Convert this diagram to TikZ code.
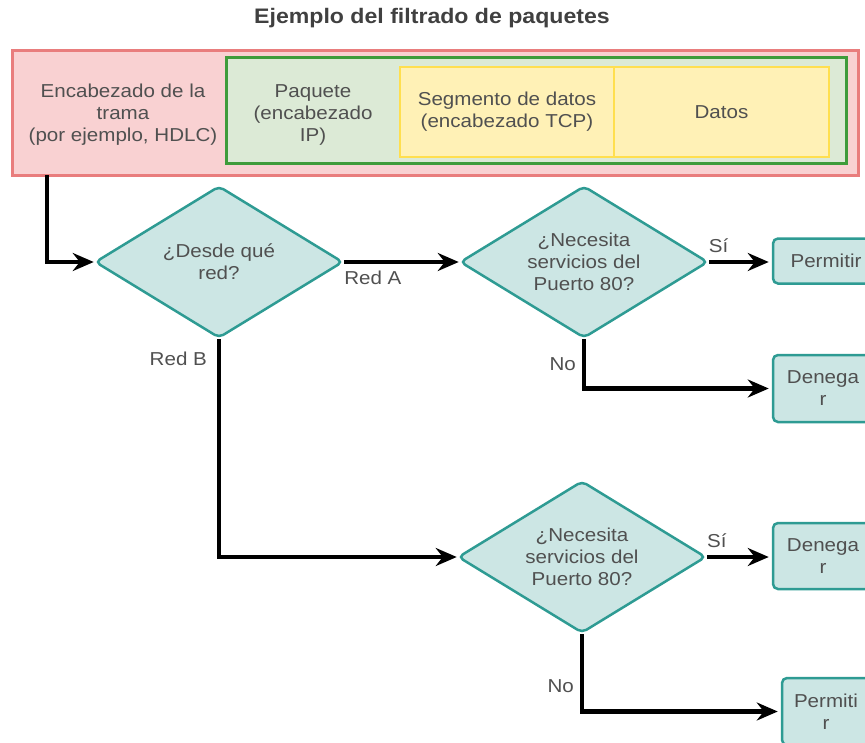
\documentclass[tikz,border=0pt]{standalone}
\usepackage{fontspec}
\setmainfont[FakeStretch=1.1]{Liberation Sans}
\usetikzlibrary{shapes.geometric,arrows.meta}
\definecolor{rojoborde}{HTML}{E97D7D}
\definecolor{rojofondo}{HTML}{F9D1D2}
\definecolor{verdeborde}{HTML}{3F9C3B}
\definecolor{verdefondo}{HTML}{DCEAD6}
\definecolor{amarborde}{HTML}{FFDF4F}
\definecolor{amarfondo}{HTML}{FFF1B6}
\definecolor{tealborde}{HTML}{2E9B93}
\definecolor{tealfondo}{HTML}{CCE6E4}
\definecolor{gristxt}{HTML}{505050}
\begin{document}
\begin{tikzpicture}[x=1pt,y=-1pt,font=\fontsize{18.7}{22}\selectfont,line join=miter,
  >={Stealth[length=21pt,width=18pt,inset=7pt]},
  txt/.style={text=gristxt,align=center},
  rombo/.style={diamond,aspect=1.63,draw=tealborde,fill=tealfondo,line width=2.5pt,rounded corners=5pt,
    minimum width=248pt,minimum height=152pt,inner sep=0pt,txt},
  caja/.style={rectangle,draw=tealborde,fill=tealfondo,line width=2.5pt,rounded corners=5pt,inner sep=0pt,txt},
  flecha/.style={->,line width=4.2pt},
  lbl/.style={text=gristxt,inner sep=1pt}]
\useasboundingbox (0,0) rectangle (865,742);
\clip (0,0) rectangle (865,742);
\node[txt,text=black!75,font=\fontsize{21}{24}\selectfont\bfseries] (titulo) at (432,18) {Ejemplo del filtrado de paquetes};
\node[draw=rojoborde,fill=rojofondo,line width=3pt,minimum width=846pt,minimum height=125pt] (trama) at (435,112.5) {};
\node[draw=verdeborde,fill=verdefondo,line width=3pt,minimum width=620pt,minimum height=106pt] (paquete) at (536,110) {};
\node[draw=amarborde,fill=amarfondo,line width=2pt,minimum width=214pt,minimum height=90pt,txt] (segmento) at (507,112) {Segmento de datos\\(encabezado TCP)};
\node[draw=amarborde,fill=amarfondo,line width=2pt,minimum width=215pt,minimum height=90pt,txt] (datos) at (721.5,112) {Datos};
\node[txt] (tramatxt) at (123,115) {Encabezado de la\\trama\\(por ejemplo, HDLC)};
\node[txt] (paquetetxt) at (313,115) {Paquete\\(encabezado\\IP)};
\coordinate (entrada) at (47,175);
\node[rombo] (desde) at (219,262) {¿Desde qué\\red?};
\node[rombo] (puerto1) at (584,262) {¿Necesita\\servicios del\\Puerto 80?};
\node[rombo] (puerto2) at (582,557) {¿Necesita\\servicios del\\Puerto 80?};
\node[caja,minimum width=106pt,minimum height=45pt] (permitir1) at (826,261) {Permitir};
\node[caja,minimum width=100pt,minimum height=67pt] (denegar1) at (823,388.5) {Denega\\r};
\node[caja,minimum width=100pt,minimum height=66pt] (denegar2) at (823,556) {Denega\\r};
\node[caja,minimum width=88pt,minimum height=67pt] (permitir2) at (826,711.5) {Permiti\\r};
\draw[flecha] (entrada) |- (desde.west);
\draw[flecha] (desde.east) -- node[lbl,pos=0.25,below=6pt] {Red A} (puerto1.west);
\draw[flecha] (desde.south) |- node[lbl,pos=0.045,left=9pt] {Red B} (puerto2.west);
\draw[flecha,shorten >=3pt] (puerto1.east) -- node[lbl,pos=0.15,above=6pt] {Sí} (permitir1.west |- puerto1.east);
\draw[flecha,shorten >=3pt] (puerto1.south) |- node[lbl,pos=0.25,left=5pt] {No} (denegar1.west);
\draw[flecha,shorten >=3pt] (puerto2.east) -- node[lbl,pos=0.15,above=6pt] {Sí} (denegar2.west |- puerto2.east);
\draw[flecha,shorten >=3pt] (puerto2.south) |- node[lbl,pos=0.333,left=5pt] {No} (permitir2.west);
\end{tikzpicture}
\end{document}
